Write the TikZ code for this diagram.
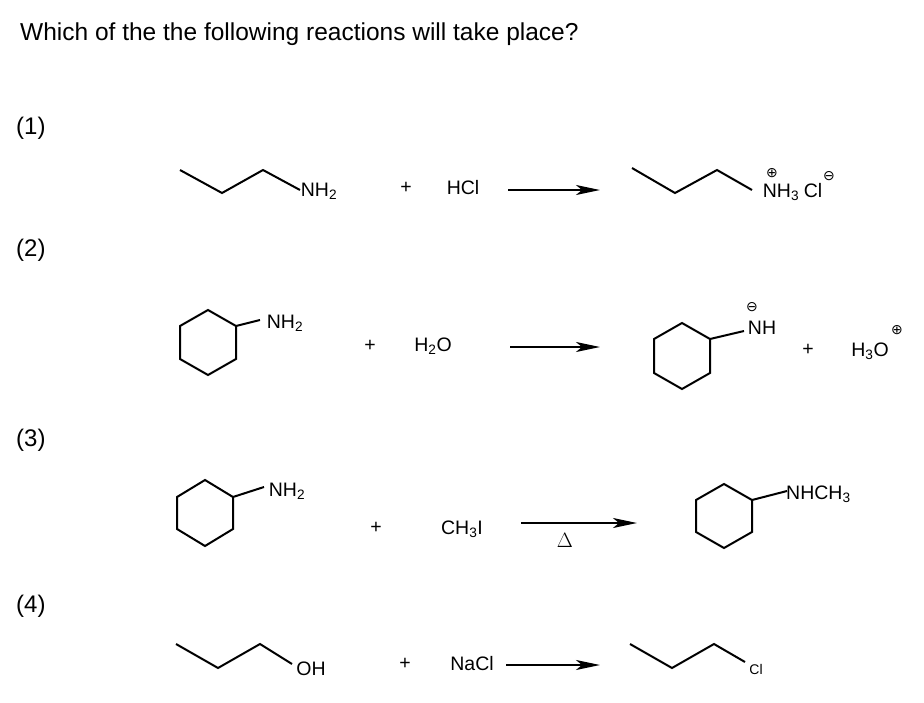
\documentclass[tikz,border=0pt]{standalone}
\usepackage{fontspec}
\setmainfont{Liberation Sans}
\newfontfamily\djv{DejaVu Sans}
\usetikzlibrary{arrows.meta}
\newcommand{\sbs}[1]{\textsubscript{#1}}
\begin{document}
\begin{tikzpicture}[x=1pt,y=-1pt,
  bond/.style={line width=2pt,line join=miter},
  lbl/.style={font=\fontsize{19.5}{22}\selectfont,inner sep=0pt},
  chg/.style={font=\fontsize{14}{16}\selectfont,inner sep=0pt},
  rxn/.style={line width=2pt,-{Stealth[length=24pt,width=10pt,inset=6pt]}}]
\useasboundingbox (0,0) rectangle (924,702);
\node[anchor=west,inner sep=0pt,font=\fontsize{24.5}{28}\selectfont] (title) at (20,34) {Which of the the following reactions will take place?};
\foreach \n/\y in {1/128,2/250,3/440,4/606}
  \node[anchor=west,inner sep=0pt,font=\fontsize{24}{28}\selectfont] (lab\n) at (16,\y) {(\n)};
% reaction 1
\draw[bond] (180,170)--(222,193)--(263,170)--(300,190);
\node[lbl] (r1a) at (319,191) {NH\sbs{2}};
\node[lbl] (p1) at (406,188) {+};
\node[lbl] (r1b) at (463,188) {HCl};
\coordinate (a1s) at (508,190); \coordinate (a1e) at (600,190);
\draw[rxn] (a1s)--(a1e);
\draw[bond] (632,168)--(675,193)--(717,170)--(752,190);
\node[lbl] (pr1) at (781,192) {NH\sbs{3}};
\node[chg] (c1) at (772,173) {\djv⊕};
\node[lbl] (cl1) at (813,191) {Cl};
\node[chg] (c2) at (829,176) {\djv⊖};
% reaction 2
\draw[bond] (208,310)--(236,326)--(236,359)--(208,375)--(180,359)--(180,326)--cycle;
\draw[bond] (236,326)--(260,320);
\node[lbl] (r2a) at (285,323) {NH\sbs{2}};
\node[lbl] (p2) at (370,346) {+};
\node[lbl] (r2b) at (433,346) {H\sbs{2}O};
\coordinate (a2s) at (510,347); \coordinate (a2e) at (600,347);
\draw[rxn] (a2s)--(a2e);
\draw[bond] (682,323)--(710,339)--(710,373)--(682,389)--(654,373)--(654,339)--cycle;
\draw[bond] (710,339)--(744,331);
\node[lbl] (pr2) at (762,328) {NH};
\node[chg] (c3) at (752,307) {\djv⊖};
\node[lbl] (p2b) at (808,350) {+};
\node[lbl] (h3o) at (870,351) {H\sbs{3}O};
\node[chg] (c4) at (897,330) {\djv⊕};
% reaction 3
\draw[bond] (205,480)--(233,497)--(233,529)--(205,546)--(177,529)--(177,497)--cycle;
\draw[bond] (233,497)--(264,487);
\node[lbl] (r3a) at (287,491) {NH\sbs{2}};
\node[lbl] (p3) at (376,528) {+};
\node[lbl] (r3b) at (462,529) {CH\sbs{3}I};
\coordinate (a3s) at (521,523); \coordinate (a3e) at (637,523);
\draw[rxn] (a3s)--(a3e);
\node[lbl] (heat) at (565,540) {$\Delta$};
\draw[bond] (724,484)--(752,500)--(752,532)--(724,548)--(696,532)--(696,500)--cycle;
\draw[bond] (752,500)--(787,491);
\node[lbl,anchor=west] (pr3) at (786,494) {NHCH\sbs{3}};
% reaction 4
\draw[bond] (176,644)--(218,668)--(260,644)--(292,664);
\node[lbl] (r4a) at (311,669) {OH};
\node[lbl] (p4) at (405,664) {+};
\node[lbl] (r4b) at (472,664) {NaCl};
\coordinate (a4s) at (506,665); \coordinate (a4e) at (600,665);
\draw[rxn] (a4s)--(a4e);
\draw[bond] (630,644)--(672,668)--(714,644)--(745,662);
\node[chg] (pr4) at (756,669) {Cl};
\end{tikzpicture}
\end{document}
